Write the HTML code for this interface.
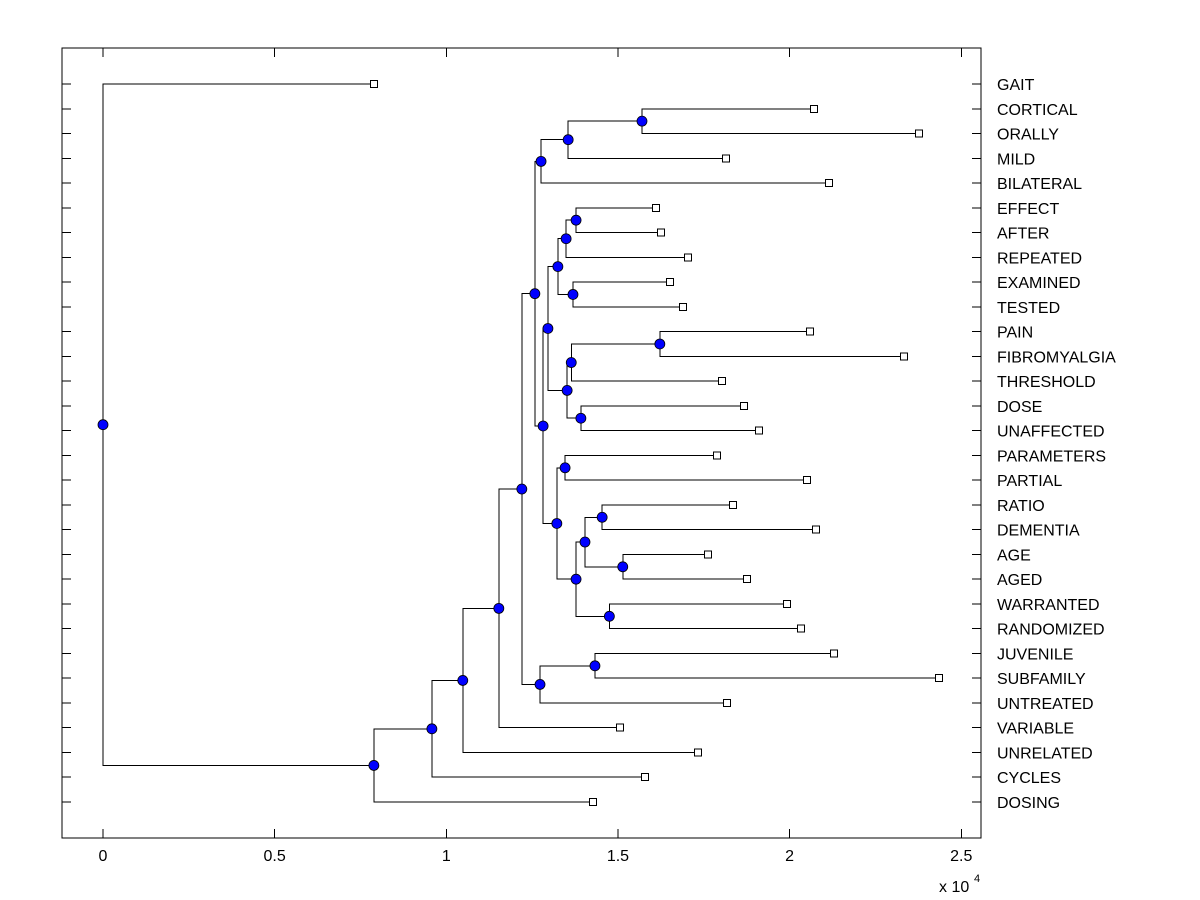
<!DOCTYPE html>
<html><head><meta charset="utf-8"><style>
html,body{margin:0;padding:0;background:#fff;}
svg{display:block;font-family:"Liberation Sans",Arial,sans-serif;}
</style></head><body>
<svg id="chart" width="1200" height="900" viewBox="0 0 1200 900" xmlns="http://www.w3.org/2000/svg">
<rect x="0" y="0" width="1200" height="900" fill="#fff"/>
<g id="marks"></g>
<g id="axes"></g>
</svg>
<script>
const leafNames = ["GAIT","CORTICAL","ORALLY","MILD","BILATERAL","EFFECT","AFTER","REPEATED","EXAMINED","TESTED","PAIN","FIBROMYALGIA","THRESHOLD","DOSE","UNAFFECTED","PARAMETERS","PARTIAL","RATIO","DEMENTIA","AGE","AGED","WARRANTED","RANDOMIZED","JUVENILE","SUBFAMILY","UNTREATED","VARIABLE","UNRELATED","CYCLES","DOSING"];
const leafValues = [0.789,2.071,2.377,1.815,2.115,1.611,1.625,1.704,1.652,1.689,2.059,2.333,1.803,1.867,1.911,1.789,2.051,1.835,2.077,1.762,1.876,1.992,2.033,2.129,2.435,1.818,1.506,1.733,1.579,1.427];
const nodeIds = ["n_cort","n_mild","n_bil","n_eff","n_rep","n_exam","n_558","n_pain","n_thr","n_dose","n_567","n_548","n_par","n_ratio","n_age","n_585","n_war","n_576","n_557","n_543","n_534","n_juv","n_untr","n_521","n_var","n_unrel","n_cyc","n_dosing","root"];
const nodeHeights = [1.570,1.355,1.276,1.378,1.349,1.369,1.325,1.622,1.364,1.392,1.352,1.296,1.346,1.454,1.514,1.404,1.475,1.378,1.322,1.282,1.258,1.433,1.273,1.220,1.153,1.048,0.958,0.789,0.0];
const nodeChildA = ["CORTICAL","n_cort","n_mild","EFFECT","n_eff","EXAMINED","n_rep","PAIN","n_pain","DOSE","n_thr","n_558","PARAMETERS","RATIO","AGE","n_ratio","WARRANTED","n_585","n_par","n_548","n_bil","JUVENILE","n_juv","n_534","n_521","n_var","n_unrel","n_cyc","GAIT"];
const nodeChildB = ["ORALLY","MILD","BILATERAL","AFTER","REPEATED","TESTED","n_exam","FIBROMYALGIA","THRESHOLD","UNAFFECTED","n_dose","n_567","PARTIAL","DEMENTIA","AGED","n_age","RANDOMIZED","n_war","n_576","n_557","n_543","SUBFAMILY","UNTREATED","n_untr","VARIABLE","UNRELATED","CYCLES","DOSING","n_dosing"];
const xTicks = [0,0.5,1,1.5,2,2.5];
const xTickLabels = ["0","0.5","1","1.5","2","2.5"];

const NS="http://www.w3.org/2000/svg";
const L=62,R=981,T=48,B=838;
const xScale=v=>103+v*343.3;
const rowY=i=>84+i*(802-84)/(leafNames.length-1);
const marks=document.getElementById('marks'), axes=document.getElementById('axes');
function mk(tag,attrs,parent){const e=document.createElementNS(NS,tag);for(const k in attrs)e.setAttribute(k,attrs[k]);parent.appendChild(e);return e;}

const pos={};
leafNames.forEach((n,i)=>{pos[n]={x:xScale(leafValues[i]),y:rowY(i)};});
function resolve(id){
  if(pos[id])return pos[id];
  const k=nodeIds.indexOf(id);
  const a=resolve(nodeChildA[k]),b=resolve(nodeChildB[k]);
  pos[id]={x:xScale(nodeHeights[k]),y:(a.y+b.y)/2};
  return pos[id];
}
nodeIds.forEach(resolve);
nodeIds.forEach((id,k)=>{
  const p=pos[id];
  [nodeChildA[k],nodeChildB[k]].forEach(c=>{
    const q=pos[c];
    const el=mk('polyline',{points:`${p.x},${p.y} ${p.x},${q.y} ${q.x},${q.y}`,fill:'none',stroke:'#000','stroke-width':1,'shape-rendering':'crispEdges'},marks);
    
    
  });
});
nodeIds.forEach(id=>{
  const p=pos[id];
  const c=mk('circle',{cx:p.x,cy:p.y,r:5,fill:'#0000ff',stroke:'#000','stroke-width':0.8},marks);
  
  
});
leafNames.forEach((n,i)=>{
  const p=pos[n];
  const r=mk('rect',{x:p.x-3.5,y:p.y-3.5,width:7,height:7,fill:'#fff',stroke:'#000','stroke-width':1,'shape-rendering':'crispEdges'},marks);
  
  
  mk('line',{x1:L,y1:p.y,x2:L+9,y2:p.y,stroke:'#000','shape-rendering':'crispEdges'},axes);
  mk('line',{x1:R-9,y1:p.y,x2:R,y2:p.y,stroke:'#000','shape-rendering':'crispEdges'},axes);
  const t=mk('text',{x:997,y:p.y+6,'font-size':16,fill:'#000'},axes);
  t.textContent=n;
  
  
});
const fr=mk('rect',{x:L,y:T,width:R-L,height:B-T,fill:'none',stroke:'#000','stroke-width':1,'shape-rendering':'crispEdges'},axes);


xTicks.forEach((v,i)=>{
  const x=xScale(v);
  mk('line',{x1:x,y1:B,x2:x,y2:B-9,stroke:'#000','shape-rendering':'crispEdges'},axes);
  mk('line',{x1:x,y1:T,x2:x,y2:T+9,stroke:'#000','shape-rendering':'crispEdges'},axes);
  const t=mk('text',{x:x,y:861,'font-size':16,'text-anchor':'middle',fill:'#000'},axes);
  t.textContent=xTickLabels[i];
  
  
});
const ex=mk('text',{x:939,y:892,'font-size':16,fill:'#000'},axes);
ex.textContent='x 10';


const sup=mk('text',{x:974,y:882,'font-size':11,fill:'#000'},axes);
sup.textContent='4';


</script>
</body></html>
